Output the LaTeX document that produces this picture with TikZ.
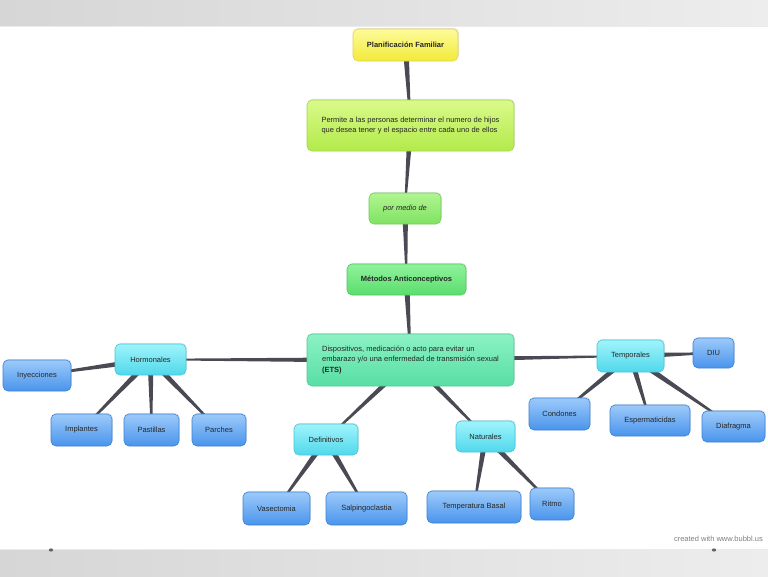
\documentclass[tikz,border=0pt]{standalone}
\usepackage{fontspec}
\setmainfont{Liberation Sans}
\usetikzlibrary{calc,backgrounds,shadows}
\definecolor{yelT}{HTML}{FDFB9A}\definecolor{yelB}{HTML}{F2EA3A}\definecolor{yelD}{HTML}{E0D450}
\definecolor{lgT}{HTML}{DAFA8A}\definecolor{lgB}{HTML}{B2EA4A}\definecolor{lgD}{HTML}{A0D44A}
\definecolor{gT}{HTML}{B0F690}\definecolor{gB}{HTML}{80E262}\definecolor{gD}{HTML}{70CC58}
\definecolor{mT}{HTML}{90F29C}\definecolor{mB}{HTML}{5ADE6C}\definecolor{mD}{HTML}{50C860}
\definecolor{aT}{HTML}{8CF2C4}\definecolor{aB}{HTML}{58DEA4}\definecolor{aD}{HTML}{50C898}
\definecolor{cT}{HTML}{A0F4FB}\definecolor{cB}{HTML}{50D8EC}\definecolor{cD}{HTML}{48C4DC}
\definecolor{bT}{HTML}{9CCAFA}\definecolor{bB}{HTML}{4A94EC}\definecolor{bD}{HTML}{3C82D4}
\definecolor{connc}{HTML}{4A4A54}
\definecolor{bandL}{HTML}{D6D6D6}\definecolor{bandR}{HTML}{EDEDED}
\tikzset{
  base/.style={rounded corners=5pt, inner sep=0pt, line width=0.6pt,
    font=\fontsize{7.5}{10.5}\selectfont, text=black!85,
    drop shadow={opacity=0.18, shadow xshift=0.8pt, shadow yshift=1.2pt}},
  yelbox/.style={base, top color=yelT, bottom color=yelB, draw=yelD},
  lgbox/.style={base, top color=lgT, bottom color=lgB, draw=lgD},
  gbox/.style={base, top color=gT, bottom color=gB, draw=gD},
  mbox/.style={base, top color=mT, bottom color=mB, draw=mD},
  abox/.style={base, top color=aT, bottom color=aB, draw=aD},
  cbox/.style={base, top color=cT, bottom color=cB, draw=cD},
  bbox/.style={base, top color=bT, bottom color=bB, draw=bD},
  conn/.style={fill=connc},
}
\newcommand\tpr[2]{\fill[conn] ($(#1.center)!3pt!90:(#2.center)$) -- ($(#1.center)!3pt!-90:(#2.center)$) -- ($(#2.center)!0.7pt!90:(#1.center)$) -- ($(#2.center)!0.7pt!-90:(#1.center)$) -- cycle;}
\begin{document}
\begin{tikzpicture}[x=1pt,y=-1pt]
\useasboundingbox (0,0) rectangle (768,576);
% nodes
\node[yelbox, minimum width=105pt, minimum height=32pt] (plan) at (405.5,45) {\textbf{Planificación Familiar}};
\node[lgbox, minimum width=207pt, minimum height=51pt, align=left] (perm) at (410.5,125.5) {Permite a las personas determinar el numero de hijos\\que desea tener y el espacio entre cada uno de ellos};
\node[gbox, minimum width=72pt, minimum height=31pt] (pmd) at (405,208.5) {\textit{por medio de}};
\node[mbox, minimum width=119pt, minimum height=31pt] (met) at (406.5,279.5) {\textbf{Métodos Anticonceptivos}};
\node[abox, minimum width=207pt, minimum height=52pt, align=left] (disp) at (410.5,360) {Dispositivos, medicación o acto para evitar un\\embarazo y/o una enfermedad de transmisión sexual\\\textbf{(ETS)}};
\node[cbox, minimum width=71pt, minimum height=31pt] (horm) at (150.5,359.5) {Hormonales};
\node[bbox, minimum width=68pt, minimum height=31pt] (iny) at (37,375.5) {Inyecciones};
\node[bbox, minimum width=61pt, minimum height=32pt] (impl) at (81.5,430) {Implantes};
\node[bbox, minimum width=55pt, minimum height=32pt] (past) at (151.5,430) {Pastillas};
\node[bbox, minimum width=54pt, minimum height=32pt] (parc) at (219,430) {Parches};
\node[cbox, minimum width=64pt, minimum height=31pt] (defi) at (326,439.5) {Definitivos};
\node[cbox, minimum width=59pt, minimum height=31pt] (natu) at (485.5,436.5) {Naturales};
\node[bbox, minimum width=67pt, minimum height=33pt] (vase) at (276.5,508.5) {Vasectomia};
\node[bbox, minimum width=81pt, minimum height=33pt] (salp) at (366.5,508.5) {Salpingoclastia};
\node[bbox, minimum width=94pt, minimum height=32pt] (tbas) at (474,507) {Temperatura Basal};
\node[bbox, minimum width=44pt, minimum height=32pt] (ritm) at (552,504) {Ritmo};
\node[cbox, minimum width=67pt, minimum height=32pt] (tempo) at (630.5,356) {Temporales};
\node[bbox, minimum width=41pt, minimum height=30pt] (diu) at (713.5,353) {DIU};
\node[bbox, minimum width=61pt, minimum height=32pt] (cond) at (559.5,414) {Condones};
\node[bbox, minimum width=80pt, minimum height=31pt] (espe) at (650,420.5) {Espermaticidas};
\node[bbox, minimum width=63pt, minimum height=31pt] (diaf) at (733.5,426.5) {Diafragma};
\node[anchor=east, inner sep=0pt, font=\fontsize{7.5}{9}\selectfont, text=black!50] (credit) at (763,539) {created with www.bubbl.us};
% background and connectors
\begin{scope}[on background layer]
  \fill[white] (0,0) rectangle (768,576);
  \fill[left color=bandL, right color=bandR] (0,0) rectangle (768,26);
  \fill[left color=bandL, right color=bandR] (0,549) rectangle (768,576);
  \draw[white!92!black, line width=0.5pt] (0,26) -- (768,26);
  \draw[white!92!black, line width=0.5pt] (0,549) -- (768,549);
  \fill[black!60] (51,550) ellipse (2.2pt and 1.6pt);
  \fill[black!60] (714,550) ellipse (2.2pt and 1.6pt);
  \tpr{plan}{perm}
  \tpr{perm}{pmd}
  \tpr{pmd}{met}
  \tpr{met}{disp}
  \tpr{disp}{horm}
  \tpr{disp}{tempo}
  \tpr{disp}{defi}
  \tpr{disp}{natu}
  \tpr{horm}{iny}
  \tpr{horm}{impl}
  \tpr{horm}{past}
  \tpr{horm}{parc}
  \tpr{defi}{vase}
  \tpr{defi}{salp}
  \tpr{natu}{tbas}
  \tpr{natu}{ritm}
  \tpr{tempo}{diu}
  \tpr{tempo}{cond}
  \tpr{tempo}{espe}
  \tpr{tempo}{diaf}
\end{scope}
\end{tikzpicture}
\end{document}
